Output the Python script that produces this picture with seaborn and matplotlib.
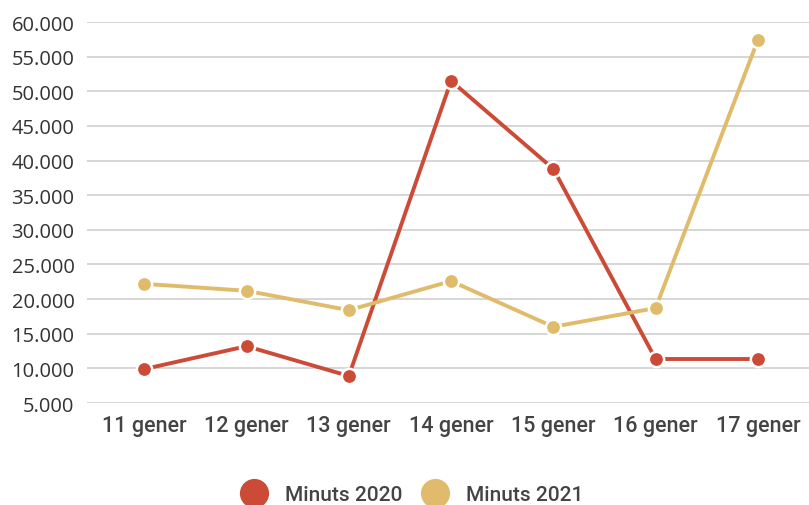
import pandas as pd
import seaborn as sns
import matplotlib.pyplot as plt
from matplotlib.lines import Line2D
from matplotlib.ticker import FuncFormatter

days = ["11 gener", "12 gener", "13 gener", "14 gener", "15 gener", "16 gener", "17 gener"]
minuts_2020 = [9900, 13200, 8900, 51500, 38800, 11350, 11350]
minuts_2021 = [22200, 21200, 18400, 22600, 16000, 18700, 57400]
series = ["Minuts 2020", "Minuts 2021"]
colors = ["#CC4B37", "#E0BB6C"]


def build_frame():
    df = pd.DataFrame({"dia": days * 2,
                       "minuts": minuts_2020 + minuts_2021,
                       "serie": [series[0]] * len(days) + [series[1]] * len(days)})
    return df


def main():
    sns.set_style("white")
    plt.rcParams["font.family"] = ["Open Sans", "DejaVu Sans"]

    df = build_frame()
    fig = plt.figure(figsize=(8.09, 5.06), dpi=100)
    ax = fig.add_axes([87 / 809, 1 - 404 / 506, 1 - 87 / 809, (404 - 23) / 506])

    sns.lineplot(data=df, x="dia", y="minuts", hue="serie", palette=colors,
                 linewidth=2.8, marker="o", markersize=11, markeredgecolor="white",
                 markeredgewidth=1.8, legend=False, ax=ax, sort=False)

    ax.set_ylim(5000, 60000)
    ax.set_xlim(-0.56, 6.5)
    ax.set_yticks(range(5000, 60001, 5000))
    ax.yaxis.set_major_formatter(FuncFormatter(lambda v, p: f"{int(v):,}".replace(",", ".")))
    ax.grid(axis="y", color="#d0d0d0", linewidth=1.2)
    ax.set_axisbelow(True)
    for s in ax.spines.values():
        s.set_visible(False)
    ax.set_xlabel("")
    ax.set_ylabel("")
    ax.tick_params(axis="y", labelsize=14.5, labelcolor="#333333", length=0, pad=9)
    ax.tick_params(axis="x", labelsize=15.5, labelcolor="#444444", length=0, pad=8.5)
    for lab in ax.get_xticklabels():
        lab.set_family(["Roboto", "DejaVu Sans"])
        lab.set_fontweight("medium")

    handles = [Line2D([], [], linestyle="", marker="o", markersize=20, color=c) for c in colors]
    leg = fig.legend(handles, series, loc="center", bbox_to_anchor=(0.505, 1 - 496 / 506),
                     ncol=2, frameon=False, handletextpad=0.5, columnspacing=0.55,
                     prop={"family": "Roboto", "size": 15, "weight": "medium"})
    for t in leg.get_texts():
        t.set_color("#444444")

    fig.savefig("out.png", dpi=100)
    plt.close(fig)


if __name__ == "__main__":
    main()
